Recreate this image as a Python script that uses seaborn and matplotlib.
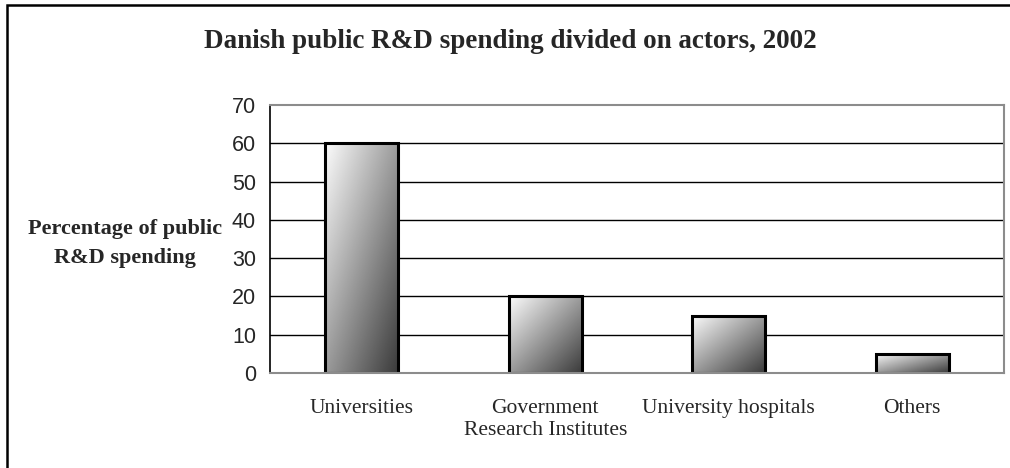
import matplotlib
matplotlib.use("Agg")
import matplotlib.pyplot as plt
import matplotlib.patches as mpatches
import numpy as np
import pandas as pd
import seaborn as sns

# data
actors = ["Universities", "Government\nResearch Institutes", "University hospitals", "Others"]
share = [60, 20, 15, 5]

df = pd.DataFrame({"actor": actors, "share": share})

sns.set_theme(style="white")
plt.rcParams["font.family"] = ["Liberation Serif", "DejaVu Serif"]

fig = plt.figure(figsize=(10.1, 4.68), dpi=100)
ax = fig.add_axes([270 / 1010, 1 - 373 / 468, (1004 - 270) / 1010, (373 - 105) / 468])

sns.barplot(data=df, x="actor", y="share", ax=ax, width=0.40,
            color="white", edgecolor="black", linewidth=2.2, zorder=3)

# gradient fill, light top-left to dark bottom-right
u, v = np.meshgrid(np.linspace(0, 1, 100), np.linspace(0, 1, 100))
grad = 0.5 * u + 0.5 * v
cmap = matplotlib.colors.LinearSegmentedColormap.from_list("g", ["#fcfcfc", "#3a3a3a"])
for p in ax.patches:
    p.set_facecolor("none")
    x0, y0 = p.get_x(), p.get_y()
    w, h = p.get_width(), p.get_height()
    im = ax.imshow(grad, cmap=cmap, extent=[x0, x0 + w, y0, y0 + h],
                   origin="upper", aspect="auto", zorder=2.8, vmin=0, vmax=1)
    im.set_clip_path(p)

ax.set_xlim(-0.5, 3.5)
ax.set_ylim(0, 70)
ax.set_yticks(range(0, 80, 10))
for yv in range(10, 70, 10):
    ax.axhline(yv, color="black", linewidth=1, zorder=1)

ax.set_xlabel("")
ax.set_ylabel("")
ax.set_xticks([0, 1, 2, 3])
ax.set_xticklabels(actors, fontsize=15.5, linespacing=1.2)
ax.set_xticks([0.5, 1.5, 2.5], minor=True)
ax.tick_params(axis="x", which="major", length=0, pad=19)
ax.tick_params(axis="x", which="minor", length=6, color="#555555", width=1, direction="out")
ax.tick_params(axis="y", length=6, color="black", width=1, direction="out", pad=4)
for lab in ax.get_yticklabels():
    lab.set_fontfamily(["Liberation Sans", "DejaVu Sans"])
    lab.set_fontsize(15.5)

for side in ["top", "right", "bottom"]:
    ax.spines[side].set_color("#8c8c8c")
    ax.spines[side].set_linewidth(1.5)
ax.spines["left"].set_color("black")
ax.spines["left"].set_linewidth(1.2)
ax.spines["bottom"].set_zorder(4)

fig.text(510 / 1010, 1 - 42 / 468, "Danish public R&D spending divided on actors, 2002",
         ha="center", va="center", fontsize=19.5, fontweight="bold")
fig.text(125 / 1010, 1 - 243 / 468, "Percentage of public\nR&D spending",
         ha="center", va="center", fontsize=16, fontweight="bold", linespacing=1.6)

# outer frame (only top and left edges visible in the reference)
frame = mpatches.Rectangle((7 / 1010, -0.2), 1.2, 1 - 5 / 468 + 0.2, transform=fig.transFigure,
                           fill=False, edgecolor="black", linewidth=1.8)
fig.patches.append(frame)

fig.savefig("out.png", dpi=100)
